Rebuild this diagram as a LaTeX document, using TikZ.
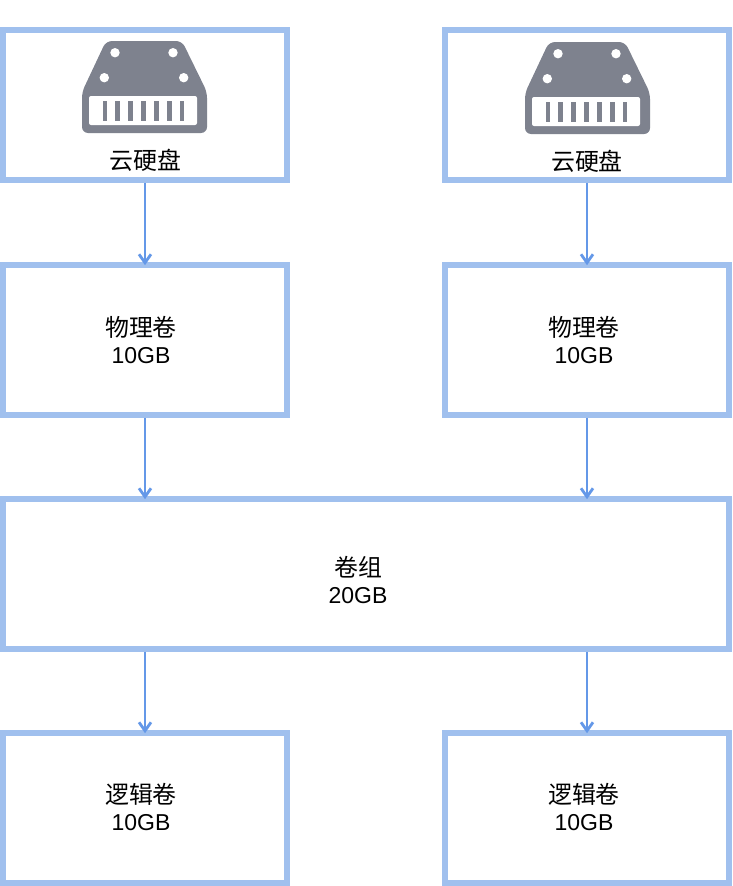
\documentclass[tikz,border=0pt]{standalone}
\usepackage{fontspec}
\setmainfont{Liberation Sans}
\newfontfamily\cjk[Scale=1.04]{Noto Sans CJK SC}
\usetikzlibrary{arrows.meta}
\definecolor{BoxClr}{RGB}{160,192,238}
\definecolor{ArrowClr}{RGB}{100,152,232}
\definecolor{DiskClr}{RGB}{126,130,142}
\tikzset{
  volbox/.style={draw=BoxClr,line width=5.6pt,fill=white,inner sep=0pt},
  lbl/.style={align=center,font=\fontsize{23}{27.5}\selectfont,text=black,inner sep=0pt},
  flow/.style={draw=ArrowClr,line width=2.5pt,shorten >=-3pt,-{Straight Barb[length=8.5pt,width=12pt,line width=2.8pt]}},
  disk/.pic={
    \fill[DiskClr,rounded corners=6pt] (82,133) -- (82,92) -- (106,41) -- (182,41) -- (207,92) -- (207,133) -- cycle;
    \fill[white,rounded corners=2pt] (89,96) rectangle (197,125);
    \fill[DiskClr] (102.5,101) rectangle (107,120.5);
    \fill[DiskClr] (115,101) rectangle (119.5,120.5);
    \fill[DiskClr] (128,101) rectangle (132.5,120.5);
    \fill[DiskClr] (141,101) rectangle (145.5,120.5);
    \fill[DiskClr] (154,101) rectangle (158.5,120.5);
    \fill[DiskClr] (167,101) rectangle (171.5,120.5);
    \fill[DiskClr] (179.5,101) rectangle (184,120.5);
    \fill[white] (115,52.7) circle (4.7);
    \fill[white] (173,52.7) circle (4.7);
    \fill[white] (104.3,77.7) circle (4.7);
    \fill[white] (183.7,77.7) circle (4.7);
  }
}
\begin{document}
\begin{tikzpicture}[x=1pt,y=-1pt]
\useasboundingbox (0,0) rectangle (733,886);

\node[volbox,minimum width=284pt,minimum height=150pt] (diskA) at (145,105) {};
\node[volbox,minimum width=284pt,minimum height=150pt] (diskB) at (587,105) {};
\node[volbox,minimum width=284pt,minimum height=150pt] (pvA) at (145,340) {};
\node[volbox,minimum width=284pt,minimum height=150pt] (pvB) at (587,340) {};
\node[volbox,minimum width=726pt,minimum height=150pt] (vg) at (366,574) {};
\node[volbox,minimum width=284pt,minimum height=150pt] (lvA) at (145,808) {};
\node[volbox,minimum width=284pt,minimum height=150pt] (lvB) at (587,808) {};

\pic at (0,0) {disk};
\pic at (443,1) {disk};

\node[lbl] (txtDiskA) at (145.5,160) {\cjk 云硬盘};
\node[lbl] (txtDiskB) at (587,161) {\cjk 云硬盘};
\node[lbl] (txtPvA) at (141,340) {{\cjk 物理卷}\\10GB};
\node[lbl] (txtPvB) at (584,340) {{\cjk 物理卷}\\10GB};
\node[lbl] (txtVg) at (358,580) {{\cjk 卷组}\\20GB};
\node[lbl] (txtLvA) at (141,807) {{\cjk 逻辑卷}\\10GB};
\node[lbl] (txtLvB) at (584,807) {{\cjk 逻辑卷}\\10GB};

\draw[flow] (diskA) -- (pvA);
\draw[flow] (diskB) -- (pvB);
\draw[flow] (pvA) -- (pvA |- vg.north);
\draw[flow] (pvB) -- (pvB |- vg.north);
\draw[flow] (lvA |- vg.south) -- (lvA);
\draw[flow] (lvB |- vg.south) -- (lvB);
\end{tikzpicture}
\end{document}
